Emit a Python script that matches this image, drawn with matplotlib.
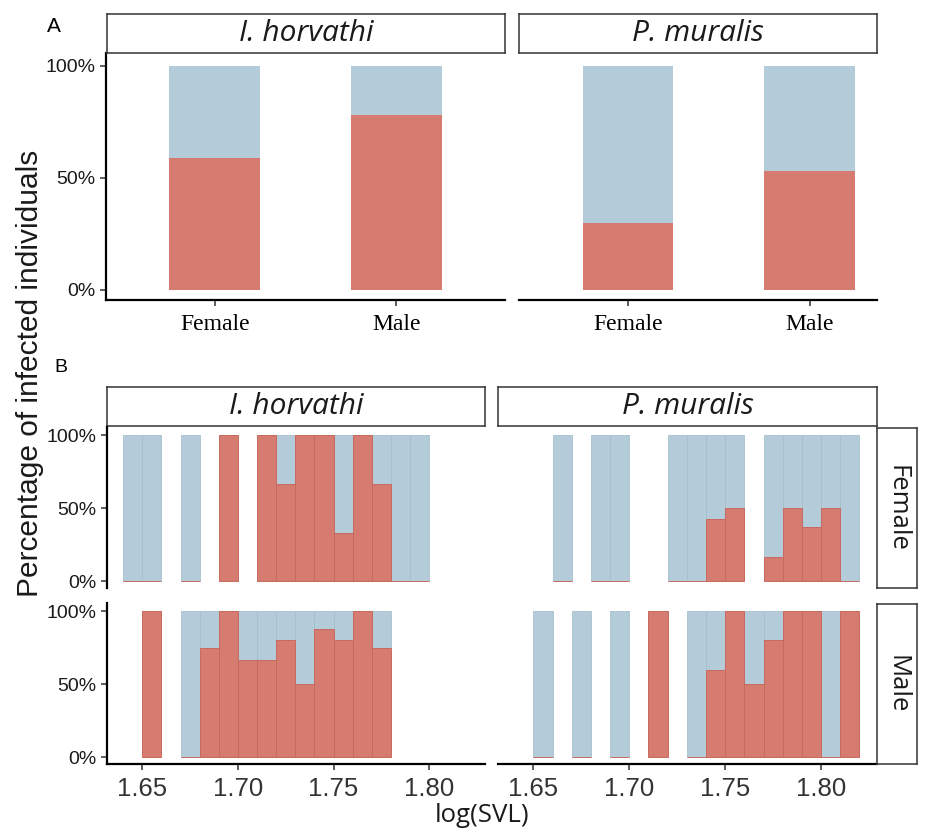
import matplotlib
matplotlib.use("Agg")
import matplotlib.pyplot as plt
import numpy as np

# ---------------- data ----------------
sexes = ["Female", "Male"]
species = ["I. horvathi", "P. muralis"]

# Panel A: proportion infected per sex
prop_A_horvathi = [0.59, 0.78]
prop_A_muralis = [0.30, 0.53]

# Panel B: histogram bins (left edges, width 0.01) and proportion infected
bin_width = 0.01
ih_female_bins = [1.64, 1.65, 1.67, 1.69, 1.71, 1.72, 1.73, 1.74, 1.75, 1.76, 1.77, 1.78, 1.79]
ih_female_prop = [0, 0, 0, 1, 1, 0.667, 1, 1, 0.333, 1, 0.667, 0, 0]
ih_male_bins = [1.65, 1.67, 1.68, 1.69, 1.70, 1.71, 1.72, 1.73, 1.74, 1.75, 1.76, 1.77]
ih_male_prop = [1, 0, 0.75, 1, 0.667, 0.667, 0.8, 0.5, 0.875, 0.8, 1, 0.75]
pm_female_bins = [1.66, 1.68, 1.69, 1.72, 1.73, 1.74, 1.75, 1.77, 1.78, 1.79, 1.80, 1.81]
pm_female_prop = [0, 0, 0, 0, 0, 0.429, 0.5, 0.167, 0.5, 0.375, 0.5, 0]
pm_male_bins = [1.65, 1.67, 1.69, 1.71, 1.73, 1.74, 1.75, 1.76, 1.77, 1.78, 1.79, 1.80, 1.81]
pm_male_prop = [0, 0, 0, 1, 0, 0.6, 1, 0.5, 0.8, 1, 1, 0, 1]

yticks = [0, 0.5, 1]
yticklabels = ["0%", "50%", "100%"]
xticks_B = [1.65, 1.70, 1.75, 1.80]
xticklabels_B = ["1.65", "1.70", "1.75", "1.80"]

RED = "#D67B70"
BLUE = "#B4CCD9"
RED_EDGE = "#C9695D"
BLUE_EDGE = "#A6BFCE"

W, H = 927, 830
fig = plt.figure(figsize=(W / 100, H / 100), dpi=100)
fig.patch.set_facecolor("white")

SANS = ["Liberation Sans", "DejaVu Sans"]
SERIF = ["Liberation Serif", "DejaVu Serif"]
STRIP = ["Open Sans", "DejaVu Sans"]


def ax_px(x0, y0, x1, y1):
    return fig.add_axes([x0 / W, 1 - y1 / H, (x1 - x0) / W, (y1 - y0) / H])


def strip(x0, y0, x1, y1, text, rot=0, italic=True, size=21.5):
    a = ax_px(x0, y0, x1, y1)
    a.set_xticks([]); a.set_yticks([])
    for s in a.spines.values():
        s.set_color("#333333"); s.set_linewidth(1.1)
    a.text(0.5, 0.5, text, ha="center", va="center", rotation=rot,
           fontsize=size, family=STRIP, style="italic" if italic else "normal",
           transform=a.transAxes, color="#1a1a1a")
    return a


def style_axes(a, left=True, bottom=True):
    a.spines["top"].set_visible(False)
    a.spines["right"].set_visible(False)
    a.spines["left"].set_visible(left)
    a.spines["bottom"].set_visible(bottom)
    for s in ["left", "bottom"]:
        a.spines[s].set_linewidth(1.6)
        a.spines[s].set_color("black")
    a.tick_params(axis="both", direction="out", length=4, width=1.1, color="#333333")
    a.set_facecolor("white")


# ---------------- Panel A ----------------
fig.text(54 / W, 1 - 26 / H, "A", fontsize=15, family=SANS, ha="center", va="center")
xpos = np.arange(1, len(sexes) + 1)
panelA = [(106, 505, prop_A_horvathi, species[0], 2.60, True),
          (519, 877, prop_A_muralis, species[1], 2.37, False)]
for x0, x1, props, name, xr, showy in panelA:
    a = ax_px(x0, 53, x1, 300)
    props = np.array(props)
    a.bar(xpos, props, width=0.5, color=RED, linewidth=0)
    a.bar(xpos, 1 - props, bottom=props, width=0.5, color=BLUE, linewidth=0)
    a.set_xlim(0.4, xr)
    a.set_ylim(-0.045, 1.057)
    style_axes(a, left=showy, bottom=True)
    a.set_xticks(xpos)
    a.set_xticklabels(sexes, family=SERIF, fontsize=17, color="black")
    if showy:
        a.set_yticks(yticks)
        a.set_yticklabels(yticklabels, family=SANS, fontsize=14, color="#1a1a1a")
    else:
        a.set_yticks([])
    a.tick_params(axis="x", pad=6)
    strip(x0 + (1 if showy else 0), 14, x1, 53, name)

# ---------------- Panel B ----------------
fig.text(61 / W, 1 - 367 / H, "B", fontsize=14, family=SANS, ha="center", va="center")
cols = [(107, 485), (498, 877)]
rows = [(427, 588), (603, 764)]
data_B = {
    (0, 0): (ih_female_bins, ih_female_prop),
    (1, 0): (ih_male_bins, ih_male_prop),
    (0, 1): (pm_female_bins, pm_female_prop),
    (1, 1): (pm_male_bins, pm_male_prop),
}
for ci, (x0, x1) in enumerate(cols):
    strip(x0, 387, x1, 426, species[ci])
    for ri, (y0, y1) in enumerate(rows):
        a = ax_px(x0, y0, x1, y1)
        bins, props = data_B[(ri, ci)]
        bins = np.array(bins); props = np.array(props)
        a.bar(bins, 1 - props, bottom=props, width=bin_width, align="edge",
              color=BLUE, edgecolor=BLUE_EDGE, linewidth=0.6)
        a.bar(bins, props, width=bin_width, align="edge",
              color=RED, edgecolor=RED_EDGE, linewidth=0.7)
        a.set_xlim(1.6315, 1.8292)
        a.set_ylim(-0.045, 1.055)
        style_axes(a, left=(ci == 0), bottom=(ri == 1))
        if ci == 0:
            a.set_yticks(yticks)
            a.set_yticklabels(yticklabels, family=SANS, fontsize=14, color="#1a1a1a")
        else:
            a.set_yticks([])
        if ri == 1:
            a.set_xticks(xticks_B)
            a.set_xticklabels(xticklabels_B, family=SANS, fontsize=18.5, color="#333333")
            a.tick_params(axis="x", pad=5)
        else:
            a.set_xticks([])

for ri, (y0, y1) in enumerate(rows):
    strip(877, y0 + 1, 917, y1, sexes[ri], rot=-90, italic=False, size=18.5)

fig.text(30 / W, 1 - 373 / H, "Percentage of infected individuals", rotation=90,
         fontsize=21.5, family=SANS, ha="center", va="center", color="#1a1a1a")
fig.text(482 / W, 1 - 815 / H, "log(SVL)", fontsize=18.5, family=STRIP,
         ha="center", va="center", color="#1a1a1a")

fig.savefig("out.png", dpi=100, facecolor="white")
